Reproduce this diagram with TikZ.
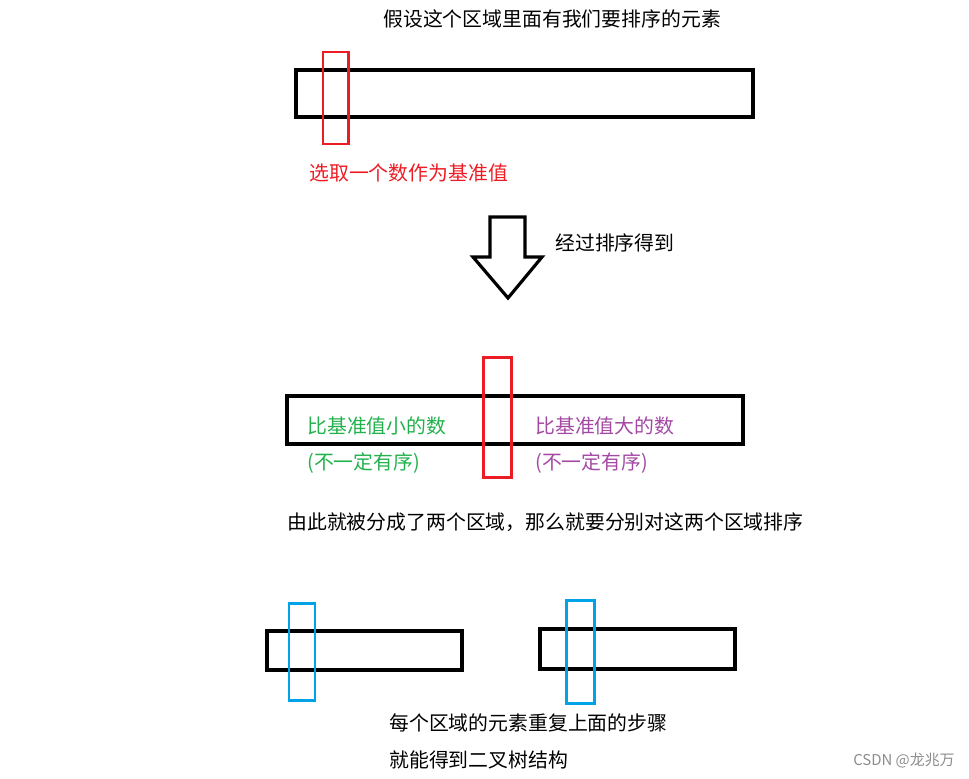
\documentclass[tikz,border=0pt]{standalone}
\usepackage{fontspec}
\usepackage{tikz}
\usetikzlibrary{positioning}
\newfontfamily\cjk{Noto Sans CJK SC}
\definecolor{paintred}{RGB}{237,28,36}
\definecolor{paintgreen}{RGB}{34,177,76}
\definecolor{paintpurple}{RGB}{163,73,164}
\definecolor{paintblue}{RGB}{0,162,232}

\begin{document}
\begin{tikzpicture}[
        x=0.02cm, y=-0.02cm,
        % Styles for boxes and text
        region/.style={draw=black, line width=2.2pt},
        pivot/.style={draw=paintred, line width=1.7pt},
        subpivot/.style={draw=paintblue, line width=1.7pt},
        txt/.style={inner sep=0pt, anchor=west, font=\cjk\fontsize{11.3}{13}\selectfont},
        watermark/.style={inner sep=0pt, anchor=east, text=black!45, font=\cjk\fontsize{8.5}{10}\selectfont}
    ]
        \useasboundingbox (0,0) rectangle (969,778);

        % First region
        \node[txt] (title) at (383,19) {假设这个区域里面有我们要排序的元素};
        \draw[region] (296,70) rectangle (753,117);
        \draw[pivot] (323,52) rectangle (348,144);
        \node[txt, text=paintred] (choose) at (309,173) {选取一个数作为基准值};

        % Big arrow
        \draw[line width=1.8pt, line join=miter] (490,217) -- (525,217) -- (525,257) -- (542,257)
            -- (508,298) -- (473,257) -- (490,257) -- cycle;
        \node[txt] (sorted) at (555,243) {经过排序得到};

        % Partitioned region
        \draw[region] (287,396) rectangle (743,444);
        \draw[pivot] (483,357) rectangle (511,477);
        \node[txt, text=paintgreen] (small) at (307,426) {比基准值小的数};
        \node[txt, text=paintgreen] (smallnote) at (307,463) {(不一定有序)};
        \node[txt, text=paintpurple] (big) at (535,426) {比基准值大的数};
        \node[txt, text=paintpurple] (bignote) at (535,463) {(不一定有序)};
        \node[txt] (split) at (287,522) {由此就被分成了两个区域，那么就要分别对这两个区域排序};

        % Two sub-regions
        \draw[region] (267,631) rectangle (462,670);
        \draw[subpivot] (289,603) rectangle (315,700);
        \draw[region] (540,629) rectangle (735,669);
        \draw[subpivot] (566,600) rectangle (594,703);
        \node[txt] (repeat) at (389,723) {每个区域的元素重复上面的步骤};
        \node[txt] (tree) at (389,760) {就能得到二叉树结构};

        \node[watermark] (csdn) at (955,761) {CSDN @龙兆万};
    \end{tikzpicture}
\end{document}
